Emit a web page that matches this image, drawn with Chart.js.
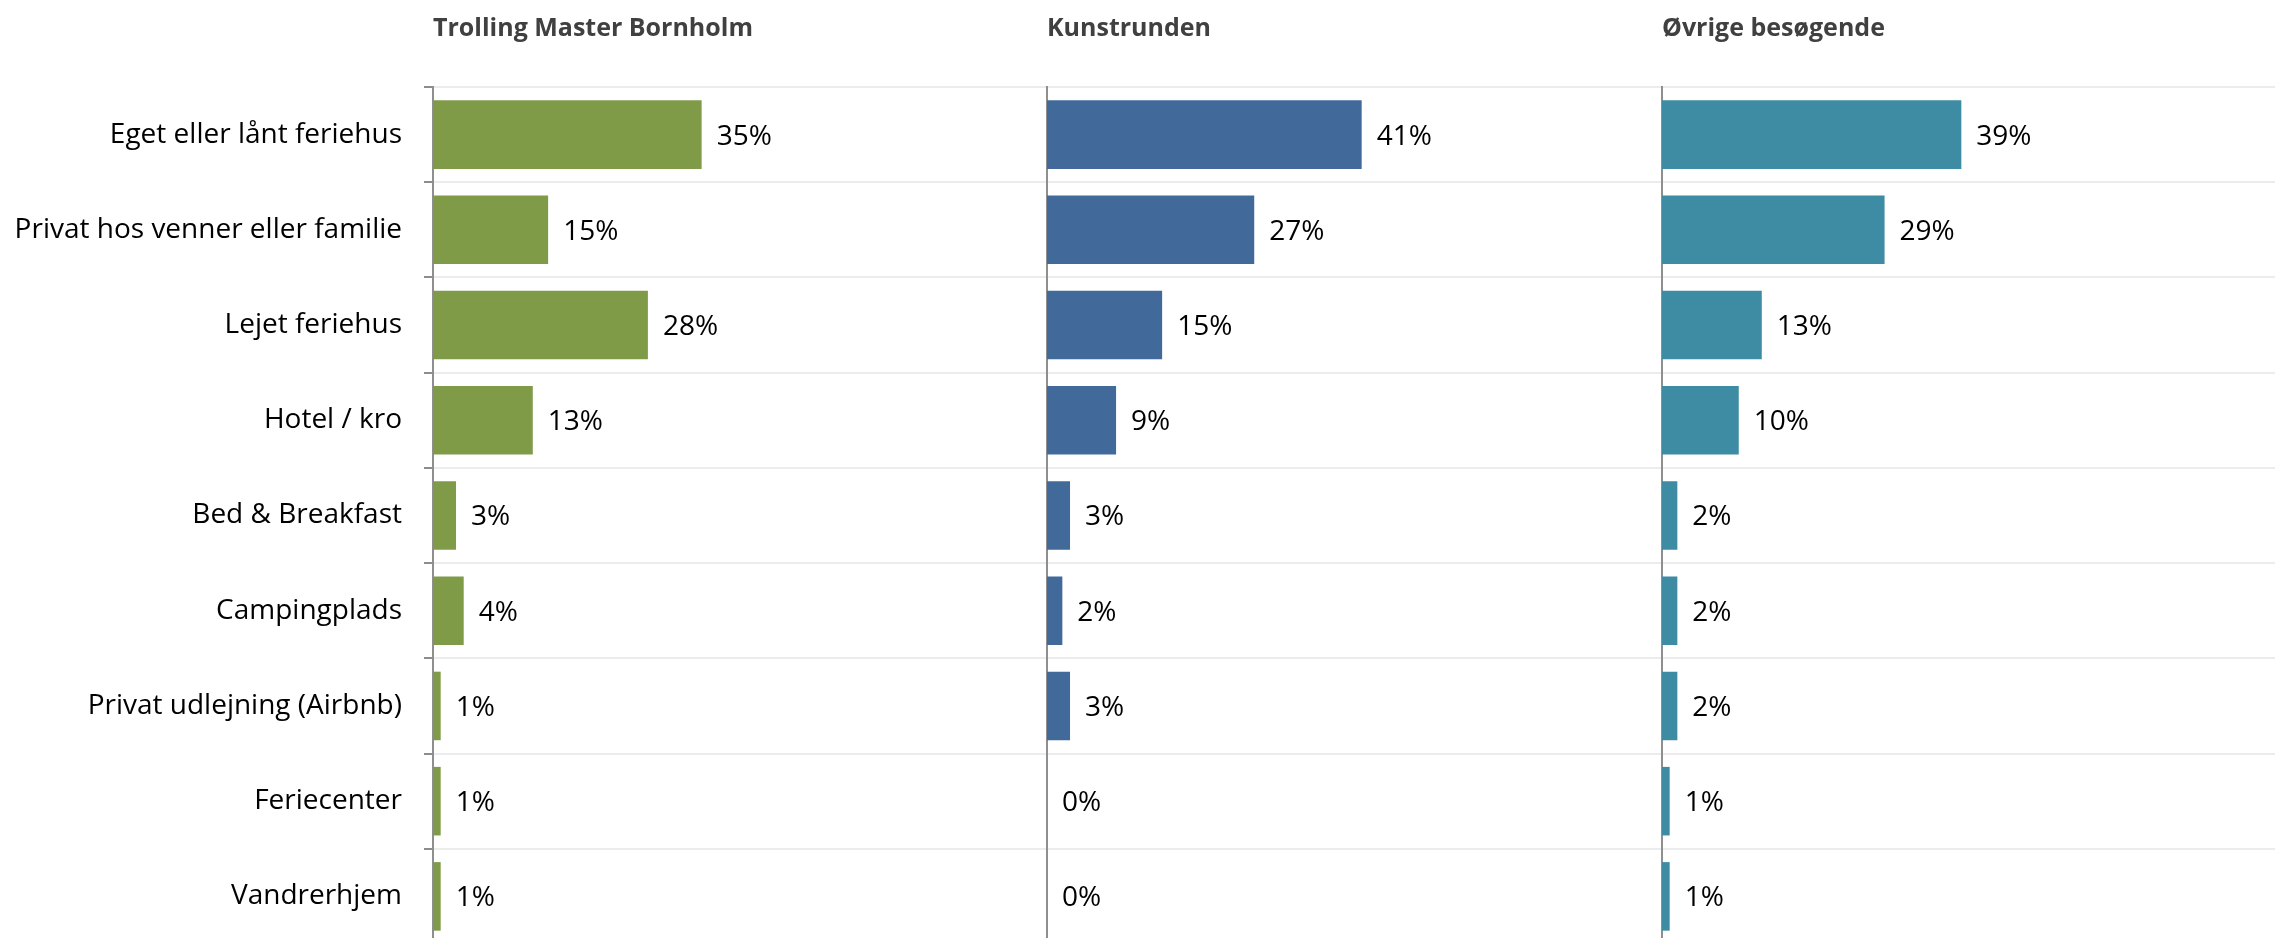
<!DOCTYPE html>
<html>
<head>
<meta charset="utf-8">
<title>Overnatning</title>
<script src="https://cdn.jsdelivr.net/npm/chart.js@4/dist/chart.umd.min.js"></script>
<style>
    html, body {
        margin: 0;
        padding: 0;
        background: #ffffff;
        overflow: hidden;
        width: 2275px;
        height: 938px;
    }
    canvas {
        position: absolute;
        top: 0;
    }
    #panel-tmb { left: 0; }
    #panel-kunst { left: 1037px; }
    #panel-other { left: 1652px; }
</style>
</head>
<body>
<canvas id="panel-tmb" width="1047" height="944"></canvas>
<canvas id="panel-kunst" width="624" height="944"></canvas>
<canvas id="panel-other" width="624" height="944"></canvas>

<script>
const categories = [
    'Eget eller lånt feriehus',
    'Privat hos venner eller familie',
    'Lejet feriehus',
    'Hotel / kro',
    'Bed & Breakfast',
    'Campingplads',
    'Privat udlejning (Airbnb)',
    'Feriecenter',
    'Vandrerhjem'
];

const panelTitles = ['Trolling Master Bornholm', 'Kunstrunden', 'Øvrige besøgende'];

const trollingValues = [35, 15, 28, 13, 3, 4, 1, 1, 1];
const kunstValues = [41, 27, 15, 9, 3, 2, 3, 0, 0];
const otherValues = [39, 29, 13, 10, 2, 2, 2, 1, 1];

const fontFamily = '"Open Sans", "Noto Sans", sans-serif';

// writes "NN%" just right of each bar end
const valueLabels = {
    id: 'valueLabels',
    afterDatasetsDraw(chart) {
        const ctx = chart.ctx;
        const meta = chart.getDatasetMeta(0);
        const values = chart.data.datasets[0].data;

        ctx.save();
        ctx.font = '28px ' + fontFamily;
        ctx.fillStyle = '#000000';
        ctx.textAlign = 'left';
        ctx.textBaseline = 'middle';
        meta.data.forEach(function(bar, i) {
            ctx.fillText(values[i] + '%', bar.x + 15, bar.y + 2);
        });
        ctx.restore();
    }
};

function makePanel(canvasId, title, values, color, showLabels) {
    const axisWidth = showLabels ? 433 : 10;

    return new Chart(document.getElementById(canvasId), {
        type: 'bar',
        data: {
            labels: categories,
            datasets: [{
                data: values,
                backgroundColor: color,
                barPercentage: 0.72,
                categoryPercentage: 1
            }]
        },
        plugins: [valueLabels],
        options: {
            indexAxis: 'y',
            responsive: false,
            animation: false,
            layout: {
                padding: 0
            },
            plugins: {
                legend: { display: false },
                tooltip: { enabled: false },
                title: {
                    display: true,
                    text: title,
                    align: 'start',
                    fullSize: false,
                    color: '#404040',
                    font: { family: fontFamily, size: 25, weight: 'bold', lineHeight: 1.2 },
                    padding: { top: 14, bottom: 43 }
                }
            },
            scales: {
                x: {
                    display: false,
                    min: 0,
                    max: 80
                },
                y: {
                    afterFit: function(scale) {
                        // same width and no label overhang on every panel,
                        // so all three plot areas line up
                        scale.width = axisWidth;
                        scale.paddingTop = 0;
                        scale.paddingBottom = 0;
                    },
                    grid: {
                        color: '#ececec',
                        lineWidth: 2,
                        tickColor: '#8c8c8c',
                        tickLength: 9,
                        drawTicks: showLabels
                    },
                    border: {
                        color: '#8f8f8f',
                        width: 2
                    },
                    ticks: {
                        display: showLabels,
                        color: '#000000',
                        padding: 22,
                        font: { family: fontFamily, size: 28 }
                    }
                }
            }
        }
    });
}

makePanel('panel-tmb', panelTitles[0], trollingValues, '#7f9b48', true);
makePanel('panel-kunst', panelTitles[1], kunstValues, '#416a9b', false);
makePanel('panel-other', panelTitles[2], otherValues, '#3d8ca3', false);
</script>
</body>
</html>
